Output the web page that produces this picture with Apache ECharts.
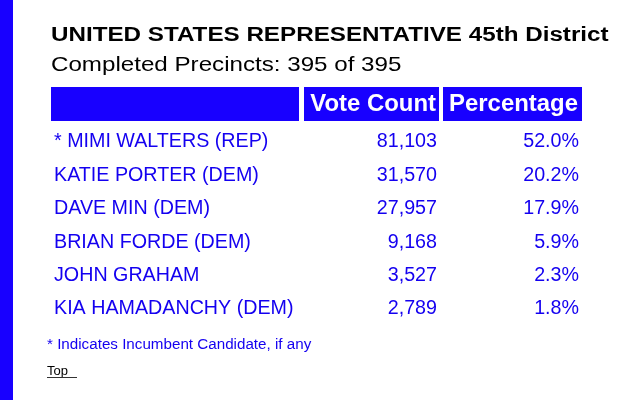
<!DOCTYPE html>
<html><head><meta charset="utf-8">
<script src="https://cdn.jsdelivr.net/npm/echarts@6/dist/echarts.min.js"></script>
<style>html,body{margin:0;padding:0;background:#fff}#c{width:640px;height:400px}</style>
</head><body><div id="c"></div>
<script>
// ---- data ----
const titleText = 'UNITED STATES REPRESENTATIVE 45th District';
const subtitleText = 'Completed Precincts: 395 of 395';
const columnHeaders = ['', 'Vote Count', 'Percentage'];
const candidates = ['* MIMI WALTERS (REP)', 'KATIE PORTER (DEM)', 'DAVE MIN (DEM)', 'BRIAN FORDE (DEM)', 'JOHN GRAHAM', 'KIA HAMADANCHY (DEM)'];
const votes = [81103, 31570, 27957, 9168, 3527, 2789];
const percentages = [52.0, 20.2, 17.9, 5.9, 2.3, 1.8];
const footnoteText = '* Indicates Incumbent Candidate, if any';
const topLinkText = 'Top';

// ---- style ----
const FONT = "'Liberation Sans', Arial, Helvetica, sans-serif";
const BLUE = '#1800ff';
const TEXT_BLUE = '#1400f0';
const COL_NAME_X = 54, COL_VOTE_X = 437, COL_PCT_X = 579;
const ROW_FONT = '19.7px ' + FONT;

const chart = echarts.init(document.getElementById('c'));
const rows = candidates.map((c, i) => [i, votes[i], percentages[i]]);

chart.setOption({
  backgroundColor: '#ffffff',
  animation: false,
  grid: { left: 0, right: 0, top: 125.3, height: 200.4 },
  xAxis: { type: 'value', min: 0, max: 640, show: false },
  yAxis: { type: 'category', data: candidates, inverse: true, show: false },
  graphic: [
    { type: 'rect', shape: { x: 0, y: 0, width: 13, height: 400 }, style: { fill: BLUE } },
    { type: 'text', x: 51, y: 35, scaleX: 1.21, style: { text: titleText, font: 'bold 20px ' + FONT, fill: '#000', align: 'left', verticalAlign: 'middle' } },
    { type: 'text', x: 51, y: 64.8, scaleX: 1.15, style: { text: subtitleText, font: '21px ' + FONT, fill: '#000', align: 'left', verticalAlign: 'middle' } },
    { type: 'rect', shape: { x: 51, y: 87, width: 248, height: 34 }, style: { fill: BLUE } },
    { type: 'rect', shape: { x: 304, y: 87, width: 135, height: 34 }, style: { fill: BLUE } },
    { type: 'rect', shape: { x: 443, y: 87, width: 139, height: 34 }, style: { fill: BLUE } },
    { type: 'text', x: 436, y: 105, scaleX: 1.04, style: { text: columnHeaders[1], font: 'bold 23px ' + FONT, fill: '#fff', align: 'right', verticalAlign: 'middle' } },
    { type: 'text', x: 578, y: 105, scaleX: 1.04, style: { text: columnHeaders[2], font: 'bold 23px ' + FONT, fill: '#fff', align: 'right', verticalAlign: 'middle' } },
    { type: 'text', x: 47, y: 344.6, style: { text: footnoteText, font: '15.2px ' + FONT, fill: TEXT_BLUE, align: 'left', verticalAlign: 'middle' } },
    { type: 'text', x: 47, y: 371.2, style: { text: topLinkText, font: '13px ' + FONT, fill: '#000', align: 'left', verticalAlign: 'middle' } },
    { type: 'line', shape: { x1: 47, y1: 377.5, x2: 77, y2: 377.5 }, style: { stroke: '#333', lineWidth: 1 } }
  ],
  series: [{
    type: 'custom',
    silent: true,
    data: rows,
    encode: { y: 0 },
    renderItem: function (params, api) {
      const idx = api.value(0);
      const y = api.coord([0, idx])[1];
      const xName = api.coord([COL_NAME_X, idx])[0];
      const xVote = api.coord([COL_VOTE_X, idx])[0];
      const xPct = api.coord([COL_PCT_X, idx])[0];
      const v = votes[idx], p = percentages[idx];
      return {
        type: 'group',
        children: [
          { type: 'text', x: xName, y: y, style: { text: candidates[idx], font: ROW_FONT, fill: TEXT_BLUE, align: 'left', verticalAlign: 'middle' } },
          { type: 'text', x: xVote, y: y, style: { text: v.toLocaleString('en-US'), font: ROW_FONT, fill: TEXT_BLUE, align: 'right', verticalAlign: 'middle' } },
          { type: 'text', x: xPct, y: y, style: { text: p.toFixed(1) + '%', font: ROW_FONT, fill: TEXT_BLUE, align: 'right', verticalAlign: 'middle' } }
        ]
      };
    }
  }]
});
</script></body></html>
